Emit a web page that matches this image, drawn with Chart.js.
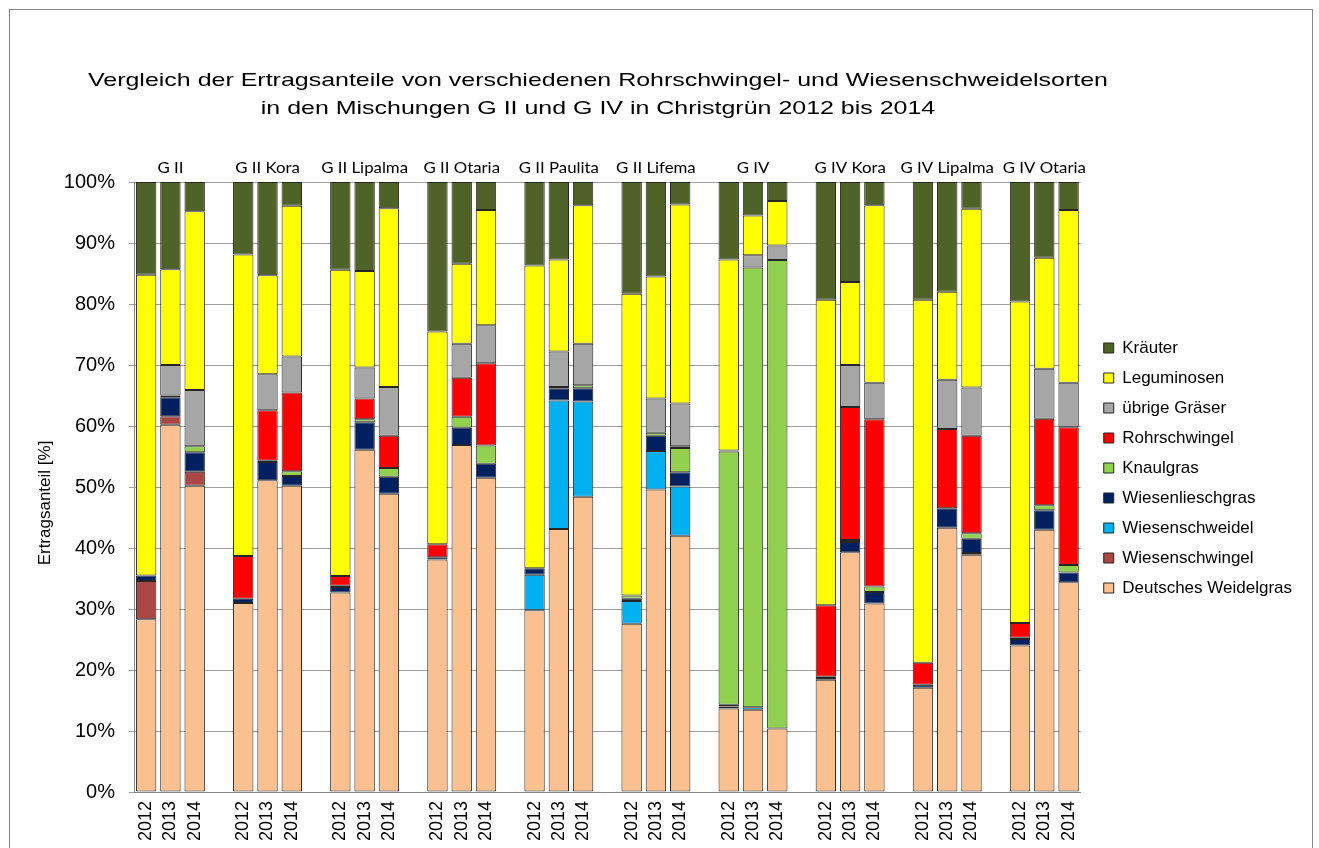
<!DOCTYPE html>
<html>
<head>
<meta charset="utf-8">
<script src="https://cdn.jsdelivr.net/npm/chart.js@4"></script>
<style>
    body { margin: 0; background: #fff; }
    canvas { display: block; }
</style>
</head>
<body>
<canvas id="ertragChart" width="1319" height="848"></canvas>
<script>
const years = ["2012", "2013", "2014"];
const groups = ["G II", "G II Kora", "G II Lipalma", "G II Otaria", "G II Paulita",
    "G II Lifema", "G IV", "G IV Kora", "G IV Lipalma", "G IV Otaria"];

// values per bar, 3 years per group, in %
const deutschesWeidelgras = [28.3, 60.2, 50.2, 31.0, 51.1, 50.2, 32.7, 56.1, 48.9, 38.1, 56.9, 51.5,
    29.8, 43.1, 48.4, 27.6, 49.6, 42.0, 13.7, 13.5, 10.4, 18.4, 39.3, 30.9, 17.1, 43.3, 38.9, 24.0, 43.0, 34.4];
const wiesenschwingel = [6.3, 1.4, 2.3, 0, 0, 0, 0, 0, 0, 0, 0, 0,
    0, 0, 0, 0, 0, 0, 0, 0, 0, 0, 0, 0, 0, 0, 0, 0, 0, 0];
const wiesenschweidel = [0, 0, 0, 0, 0, 0, 0, 0, 0, 0, 0, 0,
    5.8, 21.1, 15.6, 3.7, 6.3, 8.1, 0.3, 0.4, 0, 0, 0, 0, 0, 0, 0.3, 0, 0, 0];
const wiesenlieschgras = [0.9, 3.1, 3.2, 0.7, 3.0, 1.6, 0.9, 4.5, 2.8, 0.4, 2.8, 2.3,
    1.1, 2.0, 2.2, 0.4, 2.5, 2.3, 0.3, 0, 0, 0.3, 1.7, 1.9, 0.5, 3.2, 2.3, 1.1, 3.2, 1.6];
const knaulgras = [0, 0.3, 1.0, 0, 0.2, 0.8, 0.2, 0.5, 1.4, 0, 1.8, 3.0,
    0, 0.2, 0.5, 0.5, 0.5, 4.0, 41.5, 72.1, 76.8, 0.2, 0.3, 0.9, 0, 0, 0.9, 0.2, 0.8, 1.2];
const rohrschwingel = [0, 0, 0, 7.0, 8.3, 12.9, 1.6, 3.4, 5.3, 2.1, 6.4, 13.5,
    0, 0, 0, 0, 0, 0.3, 0, 0, 0, 11.7, 21.8, 27.4, 3.6, 13.0, 16.0, 2.4, 14.2, 22.6];
const uebrigeGraeser = [0, 5.0, 9.2, 0, 5.9, 5.9, 0, 5.1, 8.0, 0, 5.6, 6.2,
    0, 5.8, 6.8, 0, 5.6, 7.0, 0.2, 2.0, 2.4, 0, 6.9, 6.0, 0, 8.1, 7.9, 0, 8.2, 7.3];
const leguminosen = [49.3, 15.7, 29.3, 49.4, 16.2, 24.7, 50.2, 15.8, 29.3, 34.9, 13.1, 18.9,
    49.6, 15.1, 22.7, 49.5, 20.0, 32.6, 31.3, 6.5, 7.3, 50.1, 13.6, 29.1, 59.5, 14.4, 29.3, 52.7, 18.2, 28.3];
const kraeuter = [15.2, 14.3, 4.8, 11.9, 15.3, 3.9, 14.4, 14.6, 4.3, 24.5, 13.4, 4.6,
    13.7, 12.7, 3.8, 18.3, 15.5, 3.7, 12.7, 5.5, 3.1, 19.3, 16.4, 3.8, 19.3, 18.0, 4.4, 19.6, 12.4, 4.6];

// bottom to top
const series = [
    { name: "Deutsches Weidelgras", data: deutschesWeidelgras, color: "#FAC090" },
    { name: "Wiesenschwingel", data: wiesenschwingel, color: "#AA4643" },
    { name: "Wiesenschweidel", data: wiesenschweidel, color: "#00B0F0" },
    { name: "Wiesenlieschgras", data: wiesenlieschgras, color: "#002060" },
    { name: "Knaulgras", data: knaulgras, color: "#92D050" },
    { name: "Rohrschwingel", data: rohrschwingel, color: "#FF0000" },
    { name: "übrige Gräser", data: uebrigeGraeser, color: "#A6A6A6" },
    { name: "Leguminosen", data: leguminosen, color: "#FFFF00" },
    { name: "Kräuter", data: kraeuter, color: "#4F6228" }
];

// 3 bars per group plus an empty slot between groups
const labels = [];
groups.forEach((g, gi) => {
    years.forEach(y => labels.push(y));
    if (gi < groups.length - 1) labels.push("");
});

function spread(values) {
    const out = [];
    groups.forEach((g, gi) => {
        for (let k = 0; k < 3; k++) {
            const v = values[gi * 3 + k];
            out.push(v > 0 ? v : null);
        }
        if (gi < groups.length - 1) out.push(null);
    });
    return out;
}

const FONT = "'Liberation Sans', Arial, sans-serif";

function wideText(ctx, text, x, y, sx) {
    ctx.save();
    ctx.translate(x, y);
    ctx.scale(sx, 1);
    ctx.fillText(text, 0, 0);
    ctx.restore();
}

const frameAndText = {
    id: "frameAndText",
    afterLayout(c) {
        // nudge the legend a bit right and up, like the original
        const lg = c.legend;
        const dy = (lg.top + lg.bottom) / 2 - 468;
        lg.left += 10;
        lg.right += 10;
        lg.top -= dy;
        lg.bottom -= dy;
    },
    beforeDraw(c) {
        const ctx = c.ctx;
        ctx.save();
        ctx.strokeStyle = "#868686";
        ctx.lineWidth = 1;
        ctx.strokeRect(9.5, 9.5, 1303, 900);
        ctx.restore();
    },
    afterDraw(c) {
        const ctx = c.ctx;
        const x = c.scales.x;
        ctx.save();
        ctx.fillStyle = "#000";
        ctx.textAlign = "center";
        ctx.textBaseline = "middle";
        ctx.font = "19px " + FONT;
        const line1 = "Vergleich der Ertragsanteile von verschiedenen Rohrschwingel- und Wiesenschweidelsorten";
        const sx = 1020 / ctx.measureText(line1).width;
        wideText(ctx, line1, 598, 81, sx);
        wideText(ctx, "in den Mischungen G II und G IV in Christgrün 2012 bis 2014", 598, 109, sx);

        // y axis title, sits a bit below the middle in the original
        ctx.save();
        ctx.translate(45, 503);
        ctx.rotate(-Math.PI / 2);
        ctx.font = "17px " + FONT;
        ctx.fillText("Ertragsanteil [%]", 0, 0);
        ctx.restore();

        ctx.font = "15px Lato, 'Open Sans', sans-serif";
        groups.forEach((g, gi) => {
            const px = x.getPixelForValue(gi * 4 + 1);
            wideText(ctx, g, px, c.chartArea.top - 14, 1.12);
        });
        ctx.restore();
    }
};

new Chart(document.getElementById("ertragChart"), {
    type: "bar",
    data: {
        labels: labels,
        datasets: series.map(s => ({
            label: s.name,
            data: spread(s.data),
            backgroundColor: s.color,
            borderColor: "#262626",
            borderWidth: 1,
            borderSkipped: false,
            barPercentage: 0.84,
            categoryPercentage: 1.0
        }))
    },
    options: {
        responsive: false,
        animation: false,
        devicePixelRatio: 1,
        layout: { padding: { top: 182, left: 37, right: 27, bottom: 0 } },
        plugins: {
            title: { display: false },
            tooltip: { enabled: false },
            legend: {
                position: "right",
                reverse: true,
                labels: {
                    boxWidth: 10,
                    boxHeight: 10,
                    padding: 13,
                    color: "#000",
                    font: { family: FONT, size: 17 }
                }
            }
        },
        scales: {
            x: {
                stacked: true,
                grid: { display: false, drawTicks: false },
                border: { display: true, color: "#868686" },
                afterFit: scale => { scale.height = 56; },
                ticks: {
                    minRotation: 90,
                    maxRotation: 90,
                    autoSkip: false,
                    color: "#000",
                    padding: 9,
                    font: { family: FONT, size: 18 }
                }
            },
            y: {
                stacked: true,
                min: 0,
                max: 100,
                grid: { color: "#A0A0A0", tickLength: 5 },
                border: { display: true, color: "#868686" },
                afterFit: scale => { scale.width = 97; },
                ticks: {
                    stepSize: 10,
                    color: "#000",
                    padding: 14,
                    font: { family: FONT, size: 20 },
                    callback: v => v + "%"
                }
            }
        }
    },
    plugins: [frameAndText]
});
</script>
</body>
</html>
